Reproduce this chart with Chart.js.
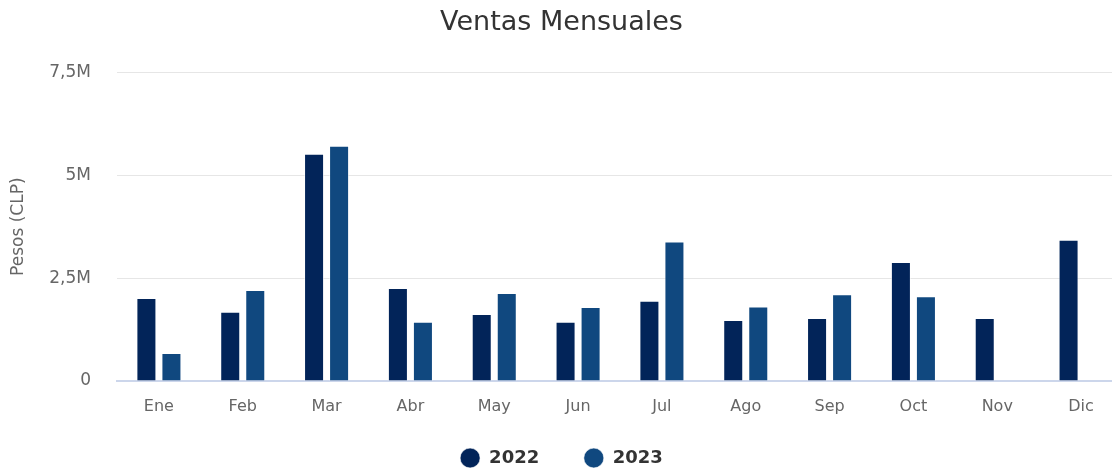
<!DOCTYPE html>
<html lang="es">
<head>
<meta charset="utf-8">
<title>Ventas Mensuales</title>
<script src="https://cdn.jsdelivr.net/npm/chart.js@4"></script>
<style>
  html, body { margin: 0; padding: 0; background: #ffffff; overflow: hidden; }
  #wrap { position: relative; width: 1124px; height: 470px; }
</style>
</head>
<body>
<div id="wrap"><canvas id="ventasChart"></canvas></div>
<script>
// Datos del grafico
const meses = ["Ene", "Feb", "Mar", "Abr", "May", "Jun", "Jul", "Ago", "Sep", "Oct", "Nov", "Dic"];
const ventas2022 = [2020000, 1680000, 5520000, 2260000, 1630000, 1440000, 1950000, 1480000, 1530000, 2890000, 1530000, 3430000];
const ventas2023 = [680000, 2210000, 5720000, 1440000, 2140000, 1800000, 3390000, 1810000, 2110000, 2060000, null, null];
const ticksY = [0, 2500000, 5000000, 7500000];

// Formato de eje: 2500000 -> "2,5M"
function formatMillones(v) {
    if (v === 0) return "0";
    return (v / 1000000).toString().replace(".", ",") + "M";
}

const ctx = document.getElementById("ventasChart").getContext("2d");
const ventasChart = new Chart(ctx, {
    type: "bar",
    data: {
        labels: meses,
        datasets: [
            {
                label: "2022",
                data: ventas2022,
                backgroundColor: "#022459",
                borderColor: "rgba(255,255,255,0.55)",
                borderWidth: 1
            },
            {
                label: "2023",
                data: ventas2023,
                backgroundColor: "#10487f",
                borderColor: "rgba(255,255,255,0.55)",
                borderWidth: 1
            }
        ]
    },
    options: {
        responsive: true,
        maintainAspectRatio: false,
        animation: false,
        datasets: {
            bar: { categoryPercentage: 0.597, barPercentage: 0.8 }
        },
        layout: { padding: { left: 0, right: 1, top: 0, bottom: -7 } },
        plugins: {
            title: {
                display: true,
                text: "Ventas Mensuales",
                color: "#333333",
                font: { family: "DejaVu Sans", size: 27, weight: "normal" },
                padding: { top: 7, bottom: 33 }
            },
            legend: {
                position: "bottom",
                labels: {
                    usePointStyle: true,
                    pointStyle: "circle",
                    boxHeight: 14,
                    pointStyleWidth: 20,
                    padding: 7,
                    color: "#333333",
                    font: { family: "DejaVu Sans", size: 18, weight: "bold" },
                    // separar un poco mas los elementos de la leyenda
                    generateLabels: function (chart) {
                        const items = Chart.defaults.plugins.legend.labels.generateLabels(chart);
                        items.forEach((it, i) => {
                            if (i < items.length - 1) it.text = it.text + "\u00a0\u00a0\u00a0\u00a0\u00a0\u00a0";
                        });
                        return items;
                    }
                }
            },
            tooltip: { enabled: false }
        },
        scales: {
            x: {
                grid: { display: false },
                border: { display: true, color: "#ccd6eb", width: 2 },
                ticks: {
                    color: "#666666",
                    padding: 8,
                    font: { family: "DejaVu Sans", size: 16 }
                },
                afterFit: function (scale) { scale.height = 61; }
            },
            y: {
                min: 0,
                max: 7500000,
                afterBuildTicks: function (scale) {
                    scale.ticks = ticksY.map(v => ({ value: v }));
                },
                grid: { color: "#e6e6e6", lineWidth: 1, drawTicks: false },
                border: { display: false },
                ticks: {
                    color: "#666666",
                    padding: 26,
                    font: { family: "DejaVu Sans", size: 17 },
                    callback: formatMillones
                },
                title: {
                    display: true,
                    text: "Pesos (CLP)",
                    color: "#666666",
                    font: { family: "DejaVu Sans", size: 17 },
                    padding: { top: 8, bottom: 0 }
                },
                afterFit: function (scale) { scale.width = 117; }
            }
        }
    }
});
</script>
</body>
</html>
